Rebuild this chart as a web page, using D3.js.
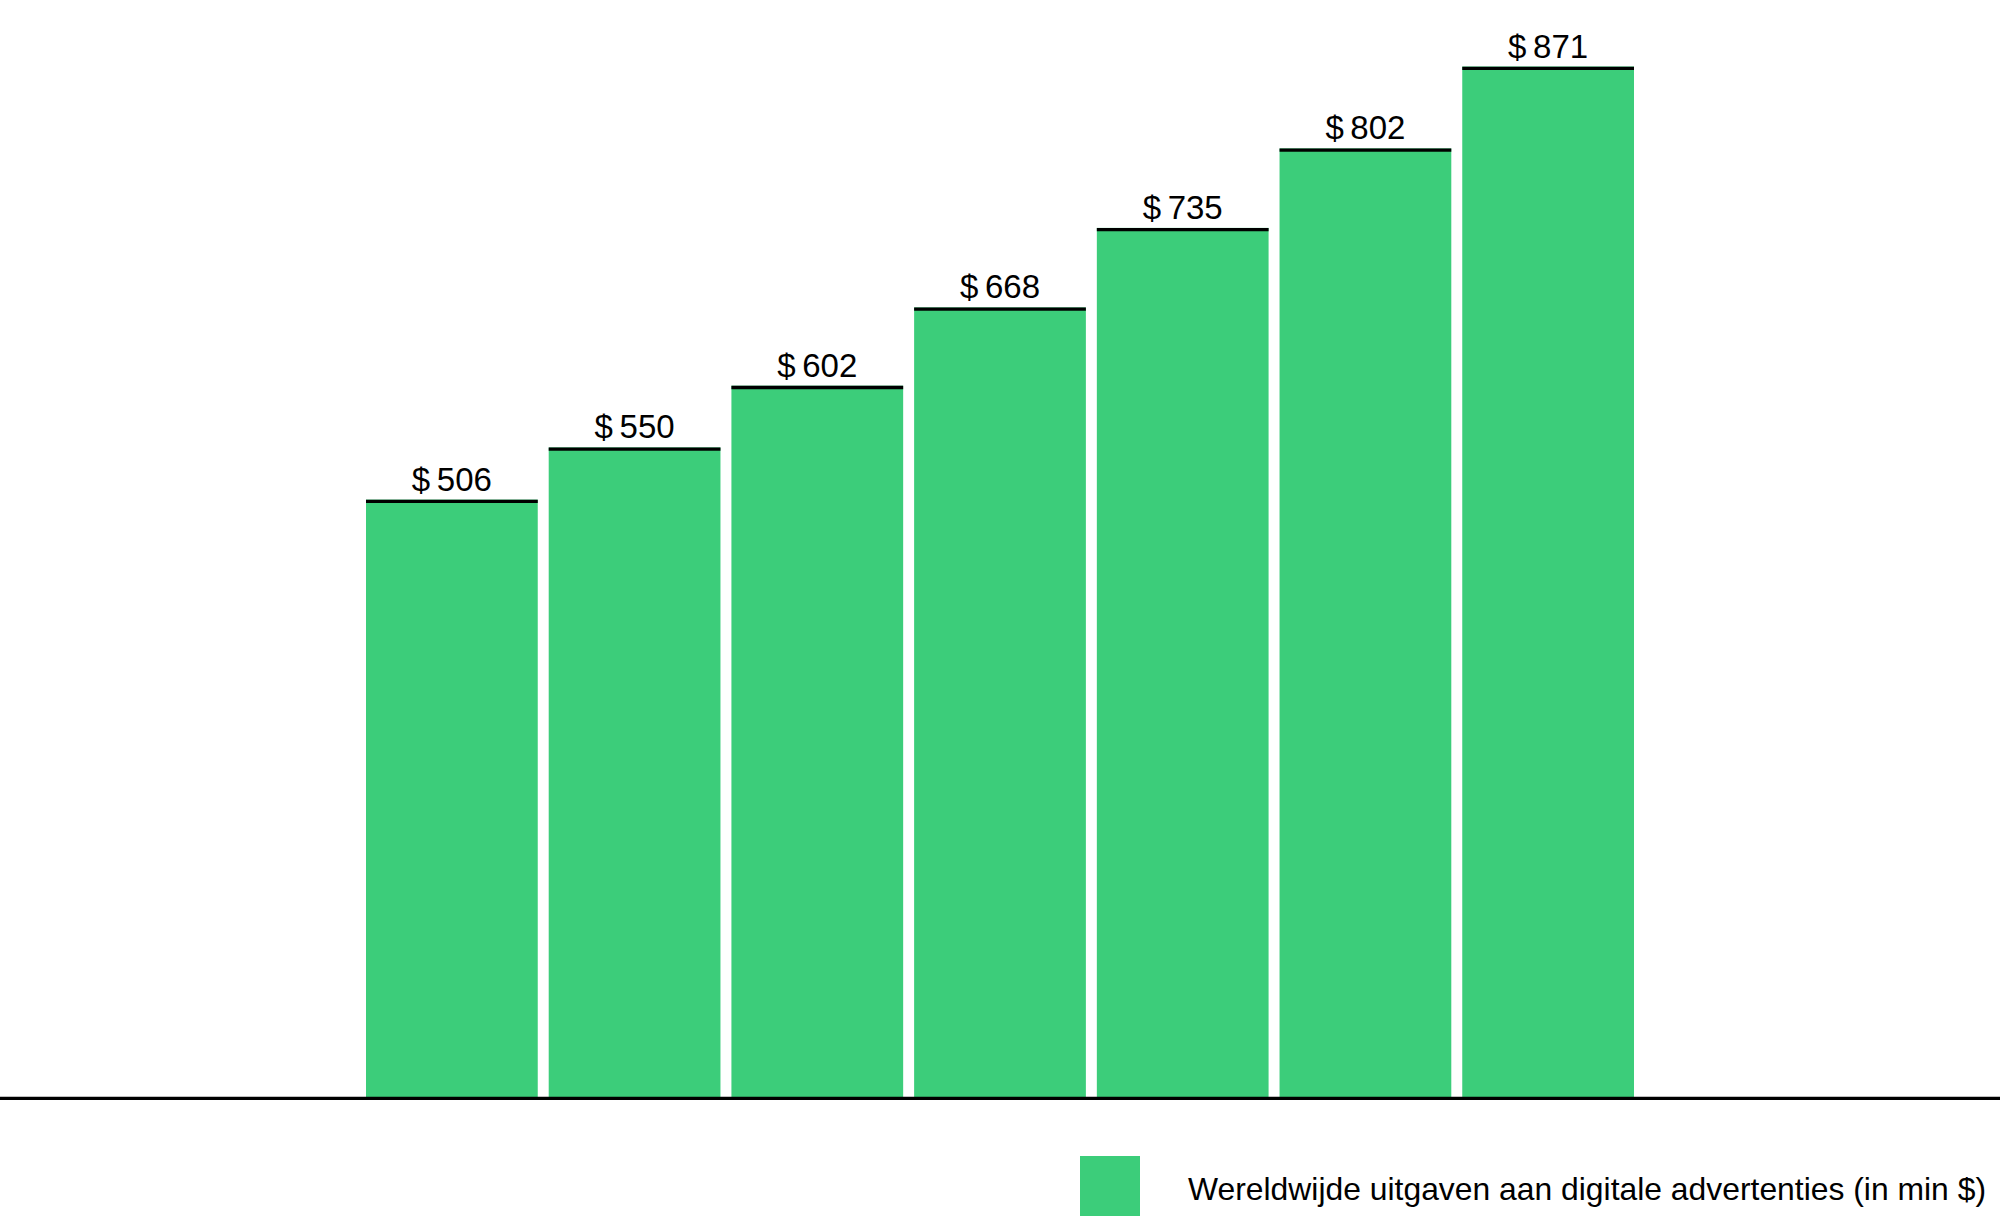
<!DOCTYPE html>
<html>
<head>
  <meta charset="utf-8">
  <title>Wereldwijde uitgaven aan digitale advertenties</title>
  <script src="https://cdn.jsdelivr.net/npm/d3@7/dist/d3.min.js"></script>
  <style>
    body { margin: 0; background: #fff; }
    text { font-family: "Liberation Sans", Arial, sans-serif; fill: #000; }
  </style>
</head>
<body>
<script>
// data
const categories = ["1", "2", "3", "4", "5", "6", "7"];
const values = [506, 550, 602, 668, 735, 802, 871];
const legendLabel = "Wereldwijde uitgaven aan digitale advertenties (in min $)";

const W = 2000, H = 1216;
const green = "#3ccd7a";

const svg = d3.select("body").append("svg")
  .attr("width", W)
  .attr("height", H);

// scales
const x = d3.scaleBand()
  .domain(categories)
  .range([366, 1634])
  .paddingInner(0.06)
  .paddingOuter(0);

const y = d3.scaleLinear()
  .domain([0, d3.max(values)])
  .range([1100, 66.5]);

const rows = categories.map((c, i) => ({ c: c, v: values[i] }));

// bars
svg.selectAll("rect.bar")
  .data(rows)
  .enter()
  .append("rect")
  .attr("class", "bar")
  .attr("x", d => x(d.c))
  .attr("y", d => y(d.v))
  .attr("width", x.bandwidth())
  .attr("height", d => y(0) - y(d.v))
  .attr("fill", green);

// black line on top of each bar
svg.selectAll("line.cap")
  .data(rows)
  .enter()
  .append("line")
  .attr("class", "cap")
  .attr("x1", d => x(d.c))
  .attr("x2", d => x(d.c) + x.bandwidth())
  .attr("y1", d => y(d.v) + 1.8)
  .attr("y2", d => y(d.v) + 1.8)
  .attr("stroke", "#000")
  .attr("stroke-width", 3.3);

// value labels
svg.selectAll("text.val")
  .data(rows)
  .enter()
  .append("text")
  .attr("class", "val")
  .attr("x", d => x(d.c) + x.bandwidth() / 2)
  .attr("y", d => y(d.v) - 9)
  .attr("text-anchor", "middle")
  .style("font-size", "33px")
  .text(d => "$\u2009" + d.v);

// baseline
svg.append("line")
  .attr("x1", 0)
  .attr("x2", W)
  .attr("y1", y(0) - 1.6)
  .attr("y2", y(0) - 1.6)
  .attr("stroke", "#000")
  .attr("stroke-width", 3.3);

// legend
const legend = svg.append("g").attr("transform", "translate(1080,1156)");
legend.append("rect")
  .attr("width", 60)
  .attr("height", 60)
  .attr("fill", green);
legend.append("text")
  .attr("x", 108)
  .attr("y", 44)
  .style("font-size", "32px")
  .attr("textLength", 798)
  .attr("lengthAdjust", "spacingAndGlyphs")
  .text(legendLabel);
</script>
</body>
</html>
